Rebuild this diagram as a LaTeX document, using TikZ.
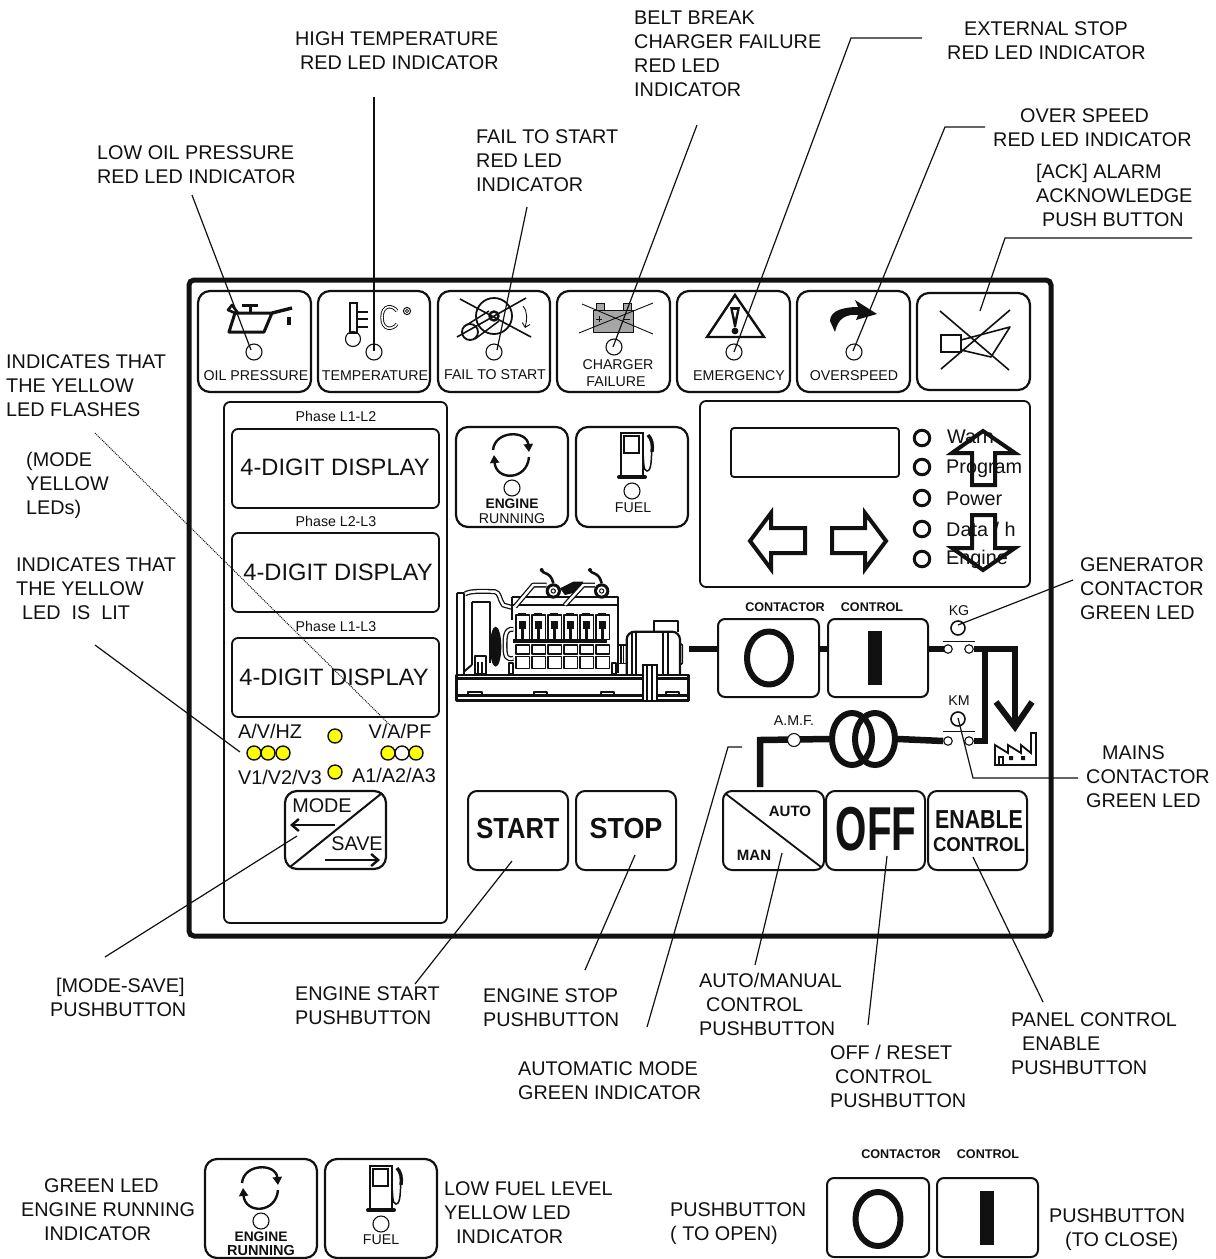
\documentclass[tikz,border=0pt]{standalone}
\usepackage{fontspec}
\setmainfont{Liberation Sans}
\usetikzlibrary{arrows.meta,shapes.geometric}
\definecolor{ink}{HTML}{111111}
\definecolor{ledy}{HTML}{FFFF00}
\tikzset{
  btn/.style={draw=ink,rounded corners=12pt,line width=2.2pt,inner sep=0pt},
  box/.style={draw=ink,rounded corners=6pt,line width=1.8pt,inner sep=0pt},
  lead/.style={draw=ink,line width=1.2pt},
  lab/.style={anchor=north west,inner sep=0pt,align=left,text=ink,font=\fontsize{19.8}{24}\selectfont},
  small/.style={text=ink,inner sep=0pt,font=\fontsize{14.2}{16}\selectfont},
  tiny/.style={text=ink,inner sep=0pt,font=\fontsize{12.6}{14}\bfseries\selectfont},
  mid/.style={text=ink,inner sep=0pt,font=\fontsize{19.8}{24}\selectfont},
  led/.style={circle,draw=ink,line width=1.1pt,minimum size=16pt,inner sep=0pt},
  oled/.style={circle,draw=ink,line width=3pt,minimum size=15.5pt,inner sep=0pt},
  yled/.style={circle,draw=ink,line width=1.4pt,fill=ledy,minimum size=14pt,inner sep=0pt},
  wled/.style={circle,draw=ink,line width=1.4pt,fill=white,minimum size=14pt,inner sep=0pt},
  cont/.style={circle,draw=ink,line width=1.1pt,fill=white,minimum size=8.5pt,inner sep=0pt},
  bus/.style={draw=ink,line width=6.5pt},
  gl/.style={draw=ink,line width=6pt,line join=round},
  bigarrow/.style={draw=ink,line width=4pt,line join=miter},
  dpipe/.style={draw=ink,line width=5pt,line join=round},
  wpipe/.style={draw=white,line width=2.4pt,line join=round},
  digits/.style={text=ink,font=\fontsize{23.7}{28}\selectfont,inner sep=0pt},
  xfmr/.style={ellipse,draw=ink,line width=6pt,minimum width=40pt,minimum height=52pt,inner sep=0pt}
}
\newcommand{\btnbox}[6][btn]{%
  \pgfmathsetmacro{\bw}{#5-#3}\pgfmathsetmacro{\bh}{#6-#4}%
  \pgfmathsetmacro{\bx}{(#3+#5)/2}\pgfmathsetmacro{\by}{(#4+#6)/2}%
  \node[#1,minimum width=\bw pt,minimum height=\bh pt] (#2) at (\bx,\by) {};}
\newcommand{\lbl}[4]{\pgfmathsetmacro{\ly}{#3-8}\node[lab] (#1) at (#2,\ly) {#4};}
\newcommand{\fl}{\rule{0pt}{15pt}}
\newcommand{\engicon}[3]{%
  \begin{scope}[shift={(#1,#2)}]
    \draw[ink,line width=2.4pt,-{Triangle[length=8pt,width=9pt]}] (37,23) .. controls (39,3) and (71,3) .. (73,25);
    \draw[ink,line width=2.4pt,-{Triangle[length=8pt,width=9pt]}] (73,30) .. controls (71,54) and (40,54) .. (38,28);
    \node[led] (#3led) at (56,61) {};
  \end{scope}}
\newcommand{\fuelicon}[3]{%
  \begin{scope}[shift={(#1,#2)}]
    \draw[ink,line width=2pt] (45,48) -- (45,6) -- (67,6) -- (67,48);
    \draw[ink,line width=1.8pt] (48,9) rectangle (63,26);
    \draw[ink,line width=4pt,line cap=round] (43,50) -- (69,50);
    \draw[ink,line width=1.5pt] (67,27) .. controls (68,34) and (67,44) .. (71,44) .. controls (76,44) and (75,30) .. (76,22);
    \draw[ink,line width=3.4pt] (72,8) .. controls (76,12) and (77,18) .. (76,25);
    \node[led] (#3led) at (56,64) {};
  \end{scope}}
\begin{document}
\begin{tikzpicture}[x=1pt,y=-1pt]
\useasboundingbox (0,0) rectangle (1216,1259);
\fill[white] (0,0) rectangle (1216,1259);

% frame and panels
\btnbox[draw=ink,line width=5pt,rounded corners=5pt,inner sep=0pt]{frame}{189}{280}{1051}{936}
\btnbox[box]{leftpanel}{224}{402}{447}{923}
\btnbox[box]{rightpanel}{700}{401}{1030}{587}

% top row buttons
\btnbox{oil}{198}{291}{311}{392}
\btnbox{temp}{318}{291}{430}{392}
\btnbox{fail}{438}{291}{550}{392}
\btnbox{charger}{557}{291}{670}{392}
\btnbox{emerg}{677}{291}{790}{392}
\btnbox{over}{797}{291}{910}{392}
\btnbox{ack}{917}{293}{1030}{390}
\node[led] (ledoil) at (254,352) {};
\node[led] (ledtemp) at (374,352) {};
\node[led] (ledfail) at (494,352) {};
\node[led] (ledchg) at (614,347) {};
\node[led] (ledem) at (734,352) {};
\node[led] (ledov) at (854,352) {};
\node[small] (toil) at (256,376) {OIL PRESSURE};
\node[small] (ttemp) at (375,376) {TEMPERATURE};
\node[small] (tfail) at (495,375) {FAIL TO START};
\node[small] (tchg1) at (618,365) {CHARGER};
\node[small] (tchg2) at (616,382) {FAILURE};
\node[small] (tem) at (739,376) {EMERGENCY};
\node[small] (tov) at (854,376) {OVERSPEED};

% oil can
\draw[ink,line width=3pt,line join=round] (229,332) -- (264,332) -- (272,313) -- (235,313) -- cycle;
\draw[ink,line width=3.4pt,line join=round] (272,313) -- (292,308);
\draw[ink,line width=2.6pt,line join=round] (235,313) -- (228,310) -- (232,305) -- (238,313);
\draw[ink,line width=3pt] (242,305) -- (258,305) (250,305) -- (250,313);
\draw[ink,line width=3.5pt] (289,317) -- (289,325);
% thermometer
\draw[ink,line width=1.1pt,fill=white] (350,303) rectangle (357,333);
\node[led,minimum size=15pt] (bulb) at (353,339) {};
\draw[ink,line width=1.1pt] (357,312) -- (368,312) (357,319) -- (368,319) (357,327) -- (368,327);
\draw[ink,line width=3.4pt] (397,311) .. controls (393,305) and (382,304) .. (382,317.5) .. controls (382,331) and (393,330) .. (397,324);
\draw[white,line width=1.6pt] (397,311) .. controls (393,305) and (382,304) .. (382,317.5) .. controls (382,331) and (393,330) .. (397,324);
\draw[ink,line width=1pt] (407,311) circle[radius=3.6];
\draw[ink,line width=.8pt] (407,311) circle[radius=1.6];
% fail to start
\draw[ink,line width=1.8pt] (494,316) circle[radius=18];
\draw[ink,line width=2.4pt] (494,316) circle[radius=4.5];
\draw[ink,line width=1.8pt] (470,332) circle[radius=8];
\draw[ink,line width=1.5pt] (465,326) -- (489,311) (475,339) -- (499,321);
\draw[ink,line width=1.6pt] (460,299) -- (531,337) (526,298) -- (457,337);
\draw[ink,line width=.9pt,-{Straight Barb[length=4pt]}] (523,306) .. controls (528,312) and (527,320) .. (525,328);
% battery
\filldraw[draw=ink,fill=black!35,line width=.6pt] (596,303) rectangle (604,310) (623,303) rectangle (631,310);
\filldraw[draw=ink,fill=black!35,line width=.6pt] (593,310) rectangle (633,332);
\draw[ink,line width=.8pt] (596,319) -- (602,319) (599,316) -- (599,322) (624,319) -- (630,319);
\draw[ink,line width=.9pt] (582,304) -- (653,334) (579,333) -- (653,303);
% emergency
\draw[ink,line width=2.4pt,line join=miter] (735,295) -- (764,337) -- (707,337) -- cycle;
\fill[ink] (730,307) -- (740,307) -- (736,327) -- (734,327) -- cycle;
\fill[ink] (735,331) circle[radius=3.4];
\fill[white] (733,310) -- (737,310) -- (735,319) -- cycle;
% overspeed
\fill[ink] (830,321) .. controls (830,310) and (845,307) .. (858,307) -- (855,300) -- (877,314) -- (856,320) -- (858,315) .. controls (846,314) and (838,318) .. (835,332) -- cycle;
% ack
\draw[ink,line width=1.8pt] (941,335) rectangle (961,352);
\draw[ink,line width=1.6pt,line join=round] (961,340) -- (1010,327) -- (991,357) -- (961,350);
\draw[ink,line width=1.6pt] (940,311) -- (1009,370) (941,369) -- (1010,310);

% left displays
\btnbox[box]{d1}{232}{429}{439}{508}
\btnbox[box]{d2}{232}{533}{439}{612}
\btnbox[box]{d3}{232}{638}{439}{717}
\node[small] (ph1) at (336,416) {Phase L1-L2};
\node[small] (ph2) at (336,521) {Phase L2-L3};
\node[small] (ph3) at (336,626) {Phase L1-L3};
\node[digits] (dt1) at (335,467) {4-DIGIT DISPLAY};
\node[digits] (dt2) at (338,572) {4-DIGIT DISPLAY};
\node[digits] (dt3) at (334,677) {4-DIGIT DISPLAY};
% selector LEDs
\node[mid] (tav) at (270,731) {A/V/HZ};
\node[mid] (tva) at (400,731) {V/A/PF};
\node[mid] (tv1) at (280,777) {V1/V2/V3};
\node[mid] (ta1) at (394,775) {A1/A2/A3};
\node[yled] (y1) at (254,753) {};
\node[yled] (y2) at (268,753) {};
\node[yled] (y3) at (283,753) {};
\node[yled] (yc1) at (335,736) {};
\node[yled] (yc2) at (335,772) {};
\node[yled] (y4) at (388,753) {};
\node[wled] (y5) at (402,753) {};
\node[yled] (y6) at (416,753) {};
% mode button
\btnbox{mode}{285}{791}{386}{869}
\coordinate (md1) at (290,867);
\coordinate (md2) at (382,793);
\draw[ink,line width=2pt] (md1) -- (md2);
\node[mid] (tmode) at (322,806) {MODE};
\node[mid] (tsave) at (357,844) {SAVE};
\draw[ink,line width=2.4pt,-{Straight Barb[length=7pt,width=12pt]}] (335,825) -- (290,825);
\draw[ink,line width=2.4pt,-{Straight Barb[length=7pt,width=12pt]}] (325,860) -- (380,860);

% engine running / fuel
\btnbox{eng}{456}{427}{568}{527}
\btnbox{fuel}{576}{427}{688}{527}
\engicon{456}{427}{a}
\fuelicon{576}{427}{b}
\node[tiny,font=\fontsize{13.8}{14}\bfseries\selectfont] (te1) at (512,504) {ENGINE};
\node[small] (te2) at (512,519) {RUNNING};
\node[small] (tf) at (633,508) {FUEL};

% right panel contents
\btnbox[box,rounded corners=3pt]{lcd}{731}{428}{899}{477}
\foreach \n/\yy in {a/438,b/467,c/498,d/529,e/559}{\node[oled] (rl\n) at (922,\yy) {};}
\node[mid,anchor=west] (tw) at (947,437) {Warn};
\node[mid,anchor=west] (tp) at (946,469) {Program};
\node[mid,anchor=west] (tpo) at (946,499) {Power};
\node[mid,anchor=west] (td) at (946,529) {Data / h};
\node[mid,anchor=west] (tn) at (946,559) {Engine};
\draw[bigarrow] (983,431) -- (1015,453) -- (995,453) -- (995,485) -- (972,485) -- (972,453) -- (952,453) -- cycle;
\draw[bigarrow] (983,570) -- (1015,548) -- (995,548) -- (995,515) -- (972,515) -- (972,548) -- (952,548) -- cycle;
\draw[bigarrow] (750,541) -- (771,513) -- (771,528) -- (805,528) -- (805,553) -- (771,553) -- (771,569) -- cycle;
\draw[bigarrow] (886,541) -- (865,513) -- (865,528) -- (832,528) -- (832,553) -- (865,553) -- (865,569) -- cycle;

% genset
\begin{scope}[shift={(450,550)},x=.3333pt,y=-.3333pt]
  \tikzset{gn/.style={draw=ink,line width=1.9pt,line join=round}}
  \draw[gn,line width=2.6pt] (20,375) rectangle (715,452);
  \draw[gn,line width=2.6pt] (20,386) -- (715,386) (20,437) -- (715,437);
  \foreach \fx in {55,252,452,648}{\draw[gn] (\fx,437) -- (\fx,425) -- (\fx+40,425) -- (\fx+40,437);}
  \draw[gn,line width=2.2pt] (20,128) -- (20,375) (42,128) -- (42,375) (20,128) -- (42,128);
  \draw[gn,line width=2.2pt] (65,155) -- (65,345) (65,155) -- (120,155) -- (120,340);
  \draw[gn] (42,365) -- (65,345);
  \draw[dpipe] (45,132) .. controls (60,120) and (120,125) .. (135,125) .. controls (150,128) and (148,150) .. (160,165) -- (185,172);
  \draw[wpipe] (45,132) .. controls (60,120) and (120,125) .. (135,125) .. controls (150,128) and (148,150) .. (160,165) -- (185,172);
  \fill[ink] (137,290) ellipse[x radius=17,y radius=60];
  \draw[gn,line width=2.2pt] (185,140) -- (505,140) -- (505,370) (185,140) -- (185,210) (185,165) -- (505,165);
  \fill[ink] (330,115) -- (370,95) -- (400,95) -- (385,125) -- (345,135) -- cycle;
  \draw[dpipe] (195,170) -- (250,105) -- (290,105);
  \draw[wpipe] (195,170) -- (250,105) -- (290,105);
  \draw[dpipe] (345,165) -- (400,105) -- (435,105);
  \draw[wpipe] (345,165) -- (400,105) -- (435,105);
  \foreach \tx in {310,455}{
    \fill[ink] (\tx,123) circle[radius=23];
    \fill[white] (\tx,123) circle[radius=14];
    \fill[ink] (\tx,123) circle[radius=8];
    \fill[white] (\tx,123) circle[radius=5];
    \draw[gn,line width=2.6pt] (\tx-36,58) .. controls (\tx-34,75) and (\tx-8,62) .. (\tx,100);
    \fill[ink] (\tx-35,60) circle[radius=6];
  }
  \foreach \cn in {0,...,5}{
    \pgfmathsetmacro{\cx}{198+48*\cn}
    \draw[gn,line width=1.6pt,fill=white] (\cx,195) rectangle (\cx+40,268);
    \fill[ink] (\cx+10,212) rectangle (\cx+30,236);
    \fill[ink] (\cx+16,236) rectangle (\cx+24,268);
    \fill[ink] (\cx+6,188) rectangle (\cx+30,195);
    \draw[gn,line width=1.6pt] (\cx,285) rectangle (\cx+40,312);
    \draw[gn,line width=1.6pt] (\cx,320) rectangle (\cx+40,355);
  }
  \fill[ink] (190,266) rectangle (470,278);
  \draw[dpipe] (190,238) .. controls (165,235) and (165,260) .. (165,290) .. controls (165,320) and (170,330) .. (190,325);
  \draw[wpipe] (190,238) .. controls (165,235) and (165,260) .. (165,290) .. controls (165,320) and (170,330) .. (190,325);
  \draw[gn,line width=2.2pt] (75,318) rectangle (107,372) (85,335) -- (85,372) (97,335) -- (97,372);
  \draw[gn,line width=2pt] (176,338) rectangle (190,372) (485,338) rectangle (497,372);
  \draw[gn,line width=1.5pt] (505,285) rectangle (530,340) (513,285) -- (513,340) (521,285) -- (521,340);
  \draw[gn,line width=2.2pt,rounded corners=8pt] (530,372) -- (530,245) -- (690,245) -- (690,372);
  \draw[gn] (545,245) -- (545,372) (558,245) -- (558,372) (640,245) -- (640,372) (655,245) -- (655,372);
  \draw[gn] (612,245) -- (612,212) -- (685,212) -- (685,245);
  \draw[gn,line width=1.5pt] (690,280) -- (697,285) -- (697,340) -- (690,345);
  \filldraw[draw=ink,fill=white,line width=1.7pt] (578,345) rectangle (622,452);
  \draw[gn] (592,345) -- (592,452) (606,345) -- (606,452);
\end{scope}
\coordinate (gensetout) at (689,649);

% contactor / control row
\btnbox[box,line width=2pt,rounded corners=7pt]{co}{718}{619}{819}{697}
\btnbox[box,line width=2pt,rounded corners=7pt]{ci}{828}{619}{928}{697}
\draw[gl] (769,658) ellipse[x radius=22,y radius=26.5];
\fill[ink] (868,631) rectangle (882,685);
\node[tiny] (tc1) at (785,607) {CONTACTOR};
\node[tiny] (tc2) at (872,607) {CONTROL};
\node[small] (tkg) at (959,611) {KG};
\node[small] (tkm) at (959,701) {KM};
\node[small] (tamf) at (794,721) {A.M.F.};
\draw[bus] (gensetout) -- (gensetout -| co.west);
\draw[bus] (gensetout -| co.east) -- (gensetout -| ci.west);
\coordinate (c1p) at (948,649);
\draw[bus] (gensetout -| ci.east) -- (c1p);
\node[cont] (c1) at (948,649) {};
\node[cont] (c2) at (969,649) {};
\node[cont] (c3) at (948,741) {};
\node[cont] (c4) at (969,741) {};
\coordinate (loadturn) at (1015,649);
\coordinate (loadtip) at (1015,726);
\coordinate (junc) at (985,649);
\coordinate (junb) at (985,741);
\draw[bus,line join=miter] (c2.east) -- (loadturn) -- (loadtip);
\draw[bus,line join=miter] (junc) -- (junb) -- (c4.east);
\draw[ink,line width=6pt,line join=miter] (996,702) -- (1015,727) -- (1032,702);
\draw[ink,line width=.8pt] (943,641) -- (975,641) (943,731) -- (975,731);
\node[led,line width=1.6pt,minimum size=14pt] (kg) at (958,628) {};
\node[led,line width=1.6pt,minimum size=14pt] (km) at (958,719) {};
% transformer
\coordinate (amfturn) at (760,740);
\coordinate (amfdown) at (760,787);
\node[xfmr] (t1) at (852,739) {};
\node[xfmr] (t2) at (875,739) {};
\draw[bus,line join=miter] (amfdown) -- (amfturn) -- (t1.west);
\draw[bus] (t2.east) -- (c3.west);
\node[circle,draw=ink,line width=1.1pt,fill=white,minimum size=13pt,inner sep=0pt] (amf) at (794,740) {};
% factory
\draw[ink,line width=1.8pt,line join=miter] (995,765) -- (995,745) -- (1008,753) -- (1008,745) -- (1021,753) -- (1021,745) -- (1031,753) -- (1031,733) -- (1036,733) -- (1036,765) -- cycle;
\draw[ink,line width=1.4pt] (999,765) -- (999,757) -- (1003,757) -- (1003,765);
\fill[ink] (1009,756) rectangle (1013,760) (1021,756) rectangle (1025,760);

% lower buttons
\btnbox[box,line width=2pt,rounded corners=9pt]{start}{468}{791}{568}{870}
\btnbox[box,line width=2pt,rounded corners=9pt]{stop}{576}{791}{676}{870}
\btnbox[box,line width=2pt,rounded corners=9pt]{auto}{723}{791}{824}{870}
\btnbox[box,line width=2pt,rounded corners=9pt]{off}{826}{791}{925}{870}
\btnbox[box,line width=2pt,rounded corners=9pt]{enable}{928}{791}{1027}{870}
\node[text=ink,inner sep=0pt,font=\fontsize{29}{30}\bfseries\selectfont,xscale=.88] (tstart) at (518,829) {START};
\node[text=ink,inner sep=0pt,font=\fontsize{29}{30}\bfseries\selectfont,xscale=.93] (tstop) at (626,829) {STOP};
\coordinate (ad1) at (726,794);
\coordinate (ad2) at (821,867);
\draw[ink,line width=1.8pt] (ad1) -- (ad2);
\node[tiny,font=\fontsize{15}{16}\bfseries\selectfont] (tauto) at (790,811) {AUTO};
\node[tiny,font=\fontsize{15}{16}\bfseries\selectfont] (tman) at (754,855) {MAN};
\node[text=ink,inner sep=0pt,font=\fontsize{62}{64}\bfseries\selectfont,xscale=.65] (toff) at (876,829) {OFF};
\node[text=ink,inner sep=0pt,font=\fontsize{26}{28}\bfseries\selectfont,xscale=.82] (ten) at (979,820) {ENABLE};
\node[text=ink,inner sep=0pt,font=\fontsize{20}{22}\bfseries\selectfont,xscale=.93] (tcn) at (979,845) {CONTROL};

% bottom legend
\btnbox{eng2}{205}{1159}{317}{1258}
\btnbox{fuel2}{325}{1159}{437}{1258}
\engicon{205}{1160}{c}
\fuelicon{325}{1160}{d}
\node[tiny,font=\fontsize{13.8}{14}\bfseries\selectfont] (te3) at (261,1237) {ENGINE};
\node[tiny,font=\fontsize{14.5}{15}\bfseries\selectfont] (te4) at (261,1250) {RUNNING};
\node[small] (tf2) at (381,1240) {FUEL};
\btnbox[box,line width=2pt,rounded corners=7pt]{co2}{827}{1178}{929}{1257}
\btnbox[box,line width=2pt,rounded corners=7pt]{ci2}{937}{1178}{1038}{1257}
\draw[gl] (878,1219) ellipse[x radius=22.5,y radius=27];
\fill[ink] (980,1191) rectangle (994,1245);
\node[tiny] (tc3) at (901,1154) {CONTACTOR};
\node[tiny] (tc4) at (988,1154) {CONTROL};

% labels
\lbl{l1}{97}{152}{\fl LOW OIL PRESSURE\\RED LED INDICATOR}
\lbl{l2}{295}{38}{\fl HIGH TEMPERATURE\\\hspace*{5pt}RED LED INDICATOR}
\lbl{l3}{476}{136}{\fl FAIL TO START\\RED LED\\INDICATOR}
\lbl{l4}{634}{17}{\fl BELT BREAK\\CHARGER FAILURE\\RED LED\\INDICATOR}
\lbl{l5}{947}{28}{\fl \hspace*{17pt}EXTERNAL STOP\\RED LED INDICATOR}
\lbl{l6}{993}{115}{\fl \hspace*{27pt}OVER SPEED\\RED LED INDICATOR}
\lbl{l7}{1036}{171}{\fl [ACK] ALARM\\ACKNOWLEDGE\\\hspace*{6pt}PUSH BUTTON}
\lbl{l8}{6}{361}{\fl INDICATES THAT\\THE YELLOW\\LED FLASHES}
\lbl{l9}{26}{459}{\fl (MODE\\YELLOW\\LEDs)}
\lbl{l10}{16}{564}{\fl INDICATES THAT\\THE YELLOW\\\hspace*{6pt}LED\ \ IS\ \ LIT}
\lbl{l11}{1080}{564}{\fl GENERATOR\\CONTACTOR\\GREEN LED}
\lbl{l12}{1086}{752}{\fl \hspace*{16pt}MAINS\\CONTACTOR\\GREEN LED}
\lbl{l13}{50}{985}{\fl \hspace*{6pt}[MODE-SAVE]\\PUSHBUTTON}
\lbl{l14}{295}{993}{\fl ENGINE START\\PUSHBUTTON}
\lbl{l15}{483}{995}{\fl ENGINE STOP\\PUSHBUTTON}
\lbl{l16}{699}{980}{\fl AUTO/MANUAL\\\hspace*{7pt}CONTROL\\PUSHBUTTON}
\lbl{l17}{518}{1068}{\fl AUTOMATIC MODE\\GREEN INDICATOR}
\lbl{l18}{830}{1052}{\fl OFF / RESET\\\hspace*{5pt}CONTROL\\PUSHBUTTON}
\lbl{l19}{1011}{1019}{\fl PANEL CONTROL\\\hspace*{11pt}ENABLE\\PUSHBUTTON}
\lbl{l20}{21}{1185}{\fl \hspace*{23pt}GREEN LED\\ENGINE RUNNING\\\hspace*{23pt}INDICATOR}
\lbl{l21}{444}{1188}{\fl LOW FUEL LEVEL\\YELLOW LED\\\hspace*{12pt}INDICATOR}
\lbl{l22}{670}{1209}{\fl PUSHBUTTON\\( TO OPEN)}
\lbl{l23}{1049}{1215}{\fl PUSHBUTTON\\\hspace*{16pt}(TO CLOSE)}

% leaders: free ends are named coordinates
\coordinate (s1) at (192,195);   \coordinate (e1) at (251,350);
\coordinate (s2) at (374,97);    \coordinate (e2) at (374,351);
\coordinate (s3) at (527,207);   \coordinate (e3) at (497,350);
\coordinate (s4) at (697,125);   \coordinate (e4) at (613,347);
\coordinate (s5) at (922,38);    \coordinate (b5) at (851,38);    \coordinate (e5) at (734,352);
\coordinate (s6) at (985,127);   \coordinate (b6) at (945,127);   \coordinate (e6) at (853,351);
\coordinate (s7) at (1192,238);  \coordinate (b7) at (1005,238);  \coordinate (e7) at (980,311);
\coordinate (s8) at (95,433);    \coordinate (e8) at (392,727);
\coordinate (s9) at (95,645);    \coordinate (e9) at (240,752);
\coordinate (s10) at (105,957);  \coordinate (e10) at (297,836);
\coordinate (s11) at (415,984);  \coordinate (e11) at (512,861);
\coordinate (s12) at (585,970);  \coordinate (e12) at (635,855);
\coordinate (s13) at (647,1027); \coordinate (b13) at (728,747);  \coordinate (e13) at (742,747);
\coordinate (s14) at (755,965);  \coordinate (e14) at (782,853);
\coordinate (s15) at (868,1025); \coordinate (e15) at (887,856);
\coordinate (s16) at (1043,1002);\coordinate (e16) at (973,857);
\coordinate (s17) at (1073,580); \coordinate (e17) at (958,625);
\coordinate (s18) at (1078,778); \coordinate (b18) at (973,778);  \coordinate (e18) at (958,718);
\draw[lead] (s1) -- (e1);
\draw[lead] (s2) -- (e2);
\draw[lead] (s3) -- (e3);
\draw[lead] (s4) -- (e4);
\draw[lead] (s5) -- (b5) -- (e5);
\draw[lead] (s6) -- (b6) -- (e6);
\draw[lead] (s7) -- (b7) -- (e7);
\draw[lead,line width=1pt,dash pattern=on 1pt off 1pt] (s8) -- (e8);
\draw[lead] (s9) -- (e9);
\draw[lead] (s10) -- (e10);
\draw[lead] (s11) -- (e11);
\draw[lead] (s12) -- (e12);
\draw[lead] (s13) -- (b13) -- (e13);
\draw[lead] (s14) -- (e14);
\draw[lead] (s15) -- (e15);
\draw[lead] (s16) -- (e16);
\draw[lead] (s17) -- (e17);
\draw[lead] (s18) -- (b18) -- (e18);
\end{tikzpicture}
\end{document}
